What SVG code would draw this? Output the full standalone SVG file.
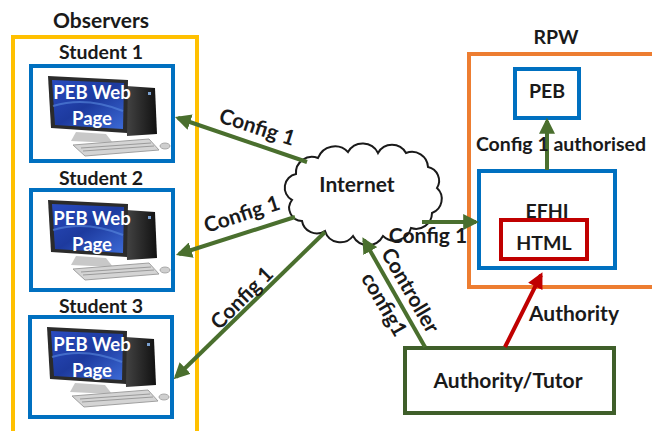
<svg xmlns="http://www.w3.org/2000/svg" width="652" height="431" viewBox="0 0 652 431">
  <style>
    text { font-family: Lato, "Liberation Sans", sans-serif; font-weight: bold; fill: #1a1a1a; }
    .lbl { font-size: 19.5px; }
    .big { font-size: 21px; }
    .node { fill: #ffffff; stroke: #0070c0; stroke-width: 4; }
    .scr { font-size: 18.5px; fill: #ffffff; }
    .con { fill: none; stroke: #4a6f2e; stroke-width: 4; }
    .red { fill: none; stroke: #c00000; stroke-width: 4; }
  </style>
  <defs>
    <marker id="ag" viewBox="0 0 10 10" refX="8" refY="5" markerWidth="4" markerHeight="4" orient="auto">
      <path d="M0,0 L10,5 L0,10 z" fill="#4a6f2e"/>
    </marker>
    <marker id="ar" viewBox="0 0 10 10" refX="8" refY="5" markerWidth="4" markerHeight="4" orient="auto">
      <path d="M0,0 L10,5 L0,10 z" fill="#c00000"/>
    </marker>
    <linearGradient id="screen" x1="0" y1="0" x2="1" y2="1">
      <stop offset="0" stop-color="#2a4cc0"/>
      <stop offset="0.5" stop-color="#1d3a9e"/>
      <stop offset="1" stop-color="#3c6ad6"/>
    </linearGradient>
    <linearGradient id="tower" x1="0" y1="0" x2="1" y2="0">
      <stop offset="0" stop-color="#444"/>
      <stop offset="1" stop-color="#111"/>
    </linearGradient>
    <!-- desktop computer: monitor, tower, keyboard, mouse -->
    <g id="pc">
      <polygon points="95,20 124,22 126,68 96,70" fill="url(#tower)"/>
      <rect x="117" y="26" width="3" height="3" fill="#7aa0d0"/>
      <polygon points="45,66 75,68 82,77 40,75" fill="#c8c8c8"/>
      <polygon points="17,10 97,14 96,67 20,62" fill="#2b2b2b"/>
      <polygon points="21,14 93,17 92,63 24,59" fill="url(#screen)"/>
      <path d="M22,40 Q55,30 92,45" stroke="#5a8ae0" stroke-width="2" fill="none" opacity="0.6"/>
      <polygon points="42,79 118,73 128,84 54,90" fill="#d4d4d4" stroke="#a0a0a0" stroke-width="1"/>
      <path d="M50,82 L120,77 M52,85 L123,80" stroke="#9a9a9a" stroke-width="1"/>
      <ellipse cx="134" cy="80" rx="5" ry="3" fill="#cfcfcf" stroke="#999" stroke-width="0.8"/>
    </g>
  </defs>

  <rect width="652" height="431" fill="#ffffff"/>

  <!-- Observers group -->
  <g id="observers">
    <text class="big" x="101" y="28" text-anchor="middle">Observers</text>
    <rect x="13" y="37" width="184" height="410" fill="none" stroke="#ffc000" stroke-width="4"/>
  </g>

  <g id="student1">
    <text class="lbl" x="101" y="59" text-anchor="middle">Student 1</text>
    <rect class="node" x="31" y="66" width="142" height="95"/>
    <use href="#pc" x="31" y="66"/>
    <text class="scr" x="92" y="99" text-anchor="middle">PEB Web</text>
    <text class="scr" x="92" y="125" text-anchor="middle">Page</text>
  </g>

  <g id="student2">
    <text class="lbl" x="101" y="185" text-anchor="middle">Student 2</text>
    <rect class="node" x="31" y="190" width="142" height="100"/>
    <use href="#pc" x="31" y="190"/>
    <text class="scr" x="92" y="225" text-anchor="middle">PEB Web</text>
    <text class="scr" x="92" y="251" text-anchor="middle">Page</text>
  </g>

  <g id="student3">
    <text class="lbl" x="101" y="313" text-anchor="middle">Student 3</text>
    <rect class="node" x="30" y="317" width="142" height="100"/>
    <use href="#pc" x="30" y="317"/>
    <text class="scr" x="92" y="351" text-anchor="middle">PEB Web</text>
    <text class="scr" x="92" y="377" text-anchor="middle">Page</text>
  </g>

  <!-- RPW group -->
  <g id="rpw">
    <text class="lbl" x="556" y="44" text-anchor="middle">RPW</text>
    <rect x="469" y="54" width="200" height="233" fill="none" stroke="#ed7d31" stroke-width="4"/>
  </g>

  <g id="peb">
    <rect class="node" x="515" y="69" width="64" height="49"/>
    <text class="lbl" x="547" y="98" text-anchor="middle">PEB</text>
  </g>

  <g id="efhi">
    <rect class="node" x="479" y="171" width="136" height="97"/>
    <text class="lbl" x="547" y="218" text-anchor="middle">EFHI</text>
  </g>

  <g id="html">
    <rect x="501" y="220" width="86" height="39" fill="#ffffff" stroke="#c00000" stroke-width="4"/>
    <text class="lbl" x="544" y="250" text-anchor="middle">HTML</text>
  </g>

  <g id="internet">
    <path d="M292,200 A14,14 0 0 1 296,174 A16,16 0 0 1 318,158 A18,18 0 0 1 348,152 A17,17 0 0 1 378,153 A16,16 0 0 1 406,153 A16,16 0 0 1 428,167 A14,14 0 0 1 437,188 A15,15 0 0 1 432,213 A16,16 0 0 1 411,228 A17,17 0 0 1 383,236 A17,17 0 0 1 353,236 A16,16 0 0 1 325,231 A15,15 0 0 1 302,221 A13,13 0 0 1 292,200 Z" fill="#ffffff" stroke="#1a1a1a" stroke-width="2"/>
    <text class="big" x="357" y="192" text-anchor="middle">Internet</text>
  </g>

  <g id="tutor">
    <rect x="405" y="348" width="209" height="65" fill="#ffffff" stroke="#3f5f2a" stroke-width="4"/>
    <text class="big" x="508" y="388" text-anchor="middle">Authority/Tutor</text>
  </g>

  <!-- connectors -->
  <g id="connectors">
    <line class="con" x1="307" y1="162" x2="178" y2="118" marker-end="url(#ag)"/>
    <line class="con" x1="295" y1="217" x2="179" y2="254" marker-end="url(#ag)"/>
    <line class="con" x1="325" y1="232" x2="176" y2="377" marker-end="url(#ag)"/>
    <line class="con" x1="422" y1="222" x2="476" y2="222" marker-end="url(#ag)"/>
    <line class="con" x1="547" y1="170" x2="547" y2="121" marker-end="url(#ag)"/>
    <line class="con" x1="425" y1="347" x2="364" y2="240" marker-end="url(#ag)"/>
    <line class="red" x1="505" y1="347" x2="541" y2="275" marker-end="url(#ar)"/>

    <text class="big" transform="translate(255,134) rotate(18)" text-anchor="middle">Config 1</text>
    <text class="big" transform="translate(244,221) rotate(-18)" text-anchor="middle">Config 1</text>
    <text class="big" transform="translate(247,303) rotate(-45)" text-anchor="middle">Config 1</text>
    <text class="big" x="428" y="243" text-anchor="middle">Config 1</text>
    <text class="lbl" x="561" y="151" text-anchor="middle">Config 1 authorised</text>
    <text class="big" transform="translate(404,294) rotate(60)" text-anchor="middle">Controller</text>
    <text class="big" transform="translate(378,308) rotate(60)" text-anchor="middle">config1</text>
    <text class="big" x="574" y="321" text-anchor="middle">Authority</text>
  </g>
</svg>
